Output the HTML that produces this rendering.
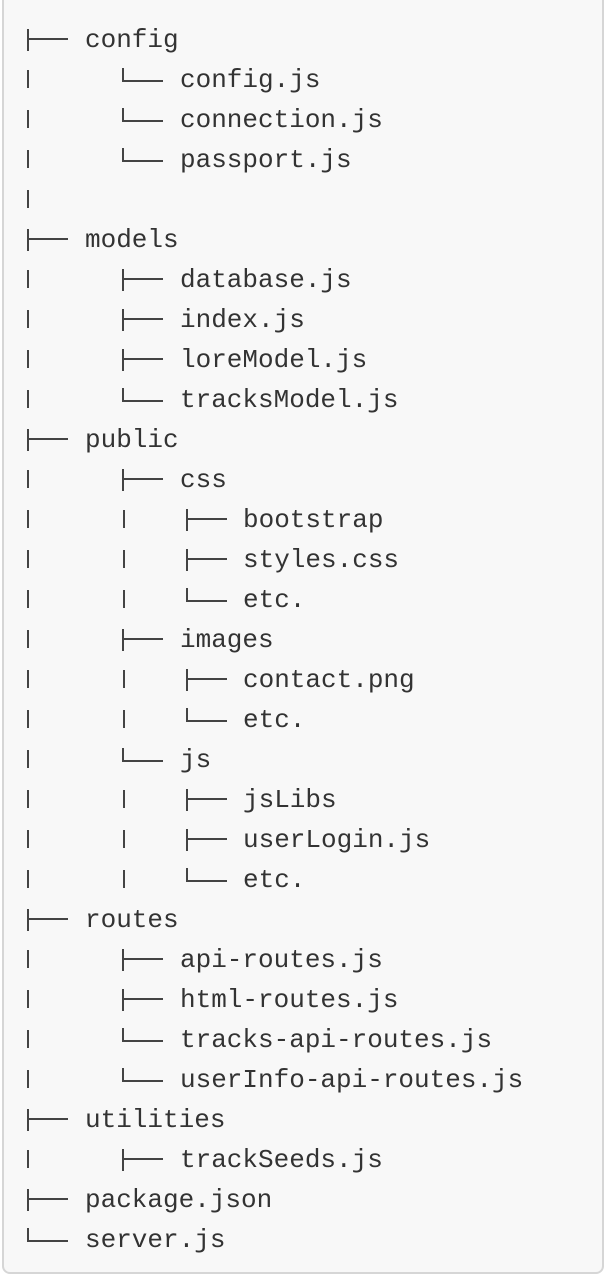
<!DOCTYPE html>
<html><head><meta charset="utf-8"><style>
html,body{margin:0;padding:0;background:#fff;width:610px;height:1286px;overflow:hidden}
#box{position:absolute;left:2px;top:-8px;width:602px;height:1282px;background:#f8f8f8;border:2px solid #d6d6d6;border-radius:8px;box-sizing:border-box}
.r{position:absolute;left:0;width:610px;height:40px}
.n{position:absolute;top:0;line-height:40px;font-family:"Liberation Mono","DejaVu Sans Mono",monospace;font-size:26px;color:#333;white-space:pre}
.b{position:absolute;top:10px;height:18px;width:2px;background:#444}
.t{position:absolute;top:9px;height:22px;width:2px;background:#444}
.t::after{content:"";position:absolute;left:0;top:9px;width:41px;height:2px;background:#444}
.e{position:absolute;top:8px;height:14px;width:2px;background:#444}
.e::after{content:"";position:absolute;left:0;top:12px;width:41px;height:2px;background:#444}
</style></head><body>
<div id="box"></div>
<div class="r" style="top:20px"><i class="t" style="left:27px"></i><span class="n" style="left:85px">config</span></div>
<div class="r" style="top:60px"><i class="b" style="left:27px"></i><i class="e" style="left:122px"></i><span class="n" style="left:180px">config.js</span></div>
<div class="r" style="top:100px"><i class="b" style="left:27px"></i><i class="e" style="left:122px"></i><span class="n" style="left:180px">connection.js</span></div>
<div class="r" style="top:140px"><i class="b" style="left:27px"></i><i class="e" style="left:122px"></i><span class="n" style="left:180px">passport.js</span></div>
<div class="r" style="top:180px"><i class="b" style="left:27px"></i></div>
<div class="r" style="top:220px"><i class="t" style="left:27px"></i><span class="n" style="left:85px">models</span></div>
<div class="r" style="top:260px"><i class="b" style="left:27px"></i><i class="t" style="left:122px"></i><span class="n" style="left:180px">database.js</span></div>
<div class="r" style="top:300px"><i class="b" style="left:27px"></i><i class="t" style="left:122px"></i><span class="n" style="left:180px">index.js</span></div>
<div class="r" style="top:340px"><i class="b" style="left:27px"></i><i class="t" style="left:122px"></i><span class="n" style="left:180px">loreModel.js</span></div>
<div class="r" style="top:380px"><i class="b" style="left:27px"></i><i class="e" style="left:122px"></i><span class="n" style="left:180px">tracksModel.js</span></div>
<div class="r" style="top:420px"><i class="t" style="left:27px"></i><span class="n" style="left:85px">public</span></div>
<div class="r" style="top:460px"><i class="b" style="left:27px"></i><i class="t" style="left:122px"></i><span class="n" style="left:180px">css</span></div>
<div class="r" style="top:500px"><i class="b" style="left:27px"></i><i class="b" style="left:123px"></i><i class="t" style="left:186px"></i><span class="n" style="left:243px">bootstrap</span></div>
<div class="r" style="top:540px"><i class="b" style="left:27px"></i><i class="b" style="left:123px"></i><i class="t" style="left:186px"></i><span class="n" style="left:243px">styles.css</span></div>
<div class="r" style="top:580px"><i class="b" style="left:27px"></i><i class="b" style="left:123px"></i><i class="e" style="left:186px"></i><span class="n" style="left:243px">etc.</span></div>
<div class="r" style="top:620px"><i class="b" style="left:27px"></i><i class="t" style="left:122px"></i><span class="n" style="left:180px">images</span></div>
<div class="r" style="top:660px"><i class="b" style="left:27px"></i><i class="b" style="left:123px"></i><i class="t" style="left:186px"></i><span class="n" style="left:243px">contact.png</span></div>
<div class="r" style="top:700px"><i class="b" style="left:27px"></i><i class="b" style="left:123px"></i><i class="e" style="left:186px"></i><span class="n" style="left:243px">etc.</span></div>
<div class="r" style="top:740px"><i class="b" style="left:27px"></i><i class="e" style="left:122px"></i><span class="n" style="left:180px">js</span></div>
<div class="r" style="top:780px"><i class="b" style="left:27px"></i><i class="b" style="left:123px"></i><i class="t" style="left:186px"></i><span class="n" style="left:243px">jsLibs</span></div>
<div class="r" style="top:820px"><i class="b" style="left:27px"></i><i class="b" style="left:123px"></i><i class="t" style="left:186px"></i><span class="n" style="left:243px">userLogin.js</span></div>
<div class="r" style="top:860px"><i class="b" style="left:27px"></i><i class="b" style="left:123px"></i><i class="e" style="left:186px"></i><span class="n" style="left:243px">etc.</span></div>
<div class="r" style="top:900px"><i class="t" style="left:27px"></i><span class="n" style="left:85px">routes</span></div>
<div class="r" style="top:940px"><i class="b" style="left:27px"></i><i class="t" style="left:122px"></i><span class="n" style="left:180px">api-routes.js</span></div>
<div class="r" style="top:980px"><i class="b" style="left:27px"></i><i class="t" style="left:122px"></i><span class="n" style="left:180px">html-routes.js</span></div>
<div class="r" style="top:1020px"><i class="b" style="left:27px"></i><i class="e" style="left:122px"></i><span class="n" style="left:180px">tracks-api-routes.js</span></div>
<div class="r" style="top:1060px"><i class="b" style="left:27px"></i><i class="e" style="left:122px"></i><span class="n" style="left:180px">userInfo-api-routes.js</span></div>
<div class="r" style="top:1100px"><i class="t" style="left:27px"></i><span class="n" style="left:85px">utilities</span></div>
<div class="r" style="top:1140px"><i class="b" style="left:27px"></i><i class="t" style="left:122px"></i><span class="n" style="left:180px">trackSeeds.js</span></div>
<div class="r" style="top:1180px"><i class="t" style="left:27px"></i><span class="n" style="left:85px">package.json</span></div>
<div class="r" style="top:1220px"><i class="e" style="left:27px"></i><span class="n" style="left:85px">server.js</span></div>
</body></html>
